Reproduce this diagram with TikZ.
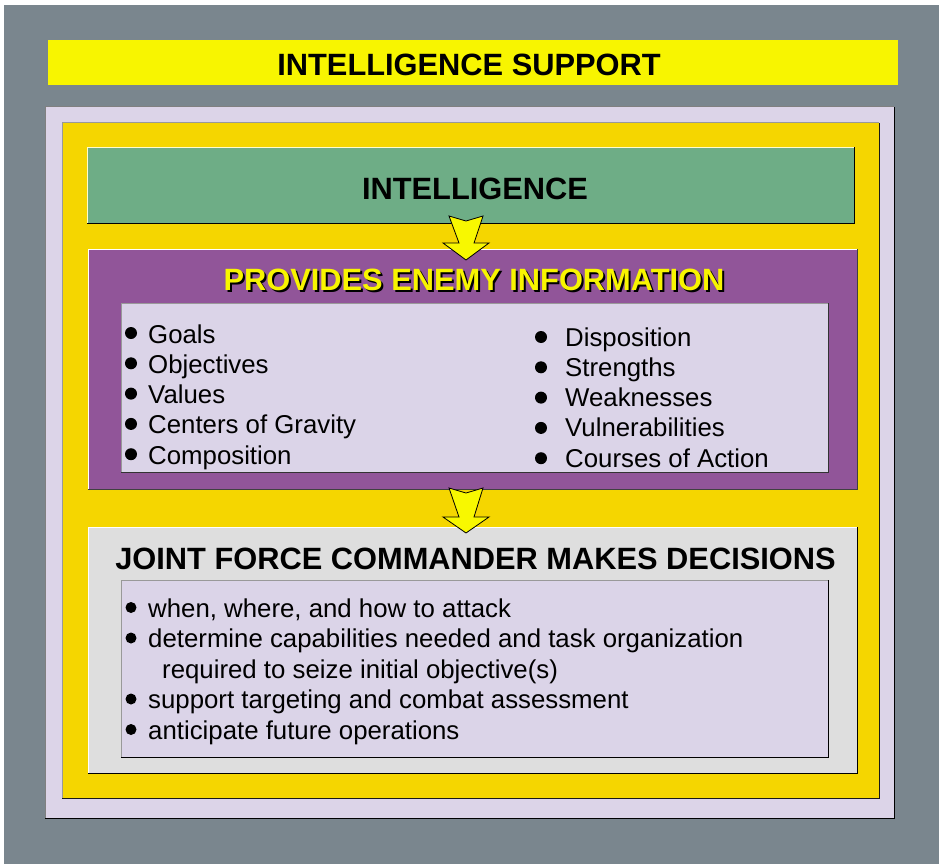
\documentclass[tikz,border=0pt]{standalone}
\usepackage{fontspec}
\setmainfont{Liberation Sans}
\usetikzlibrary{positioning}
\definecolor{slate}{HTML}{7A868E}
\definecolor{titleyellow}{HTML}{F8F500}
\definecolor{lavender}{HTML}{DCD4E8}
\definecolor{gold}{HTML}{F5D600}
\definecolor{intelgreen}{HTML}{6EAD86}
\definecolor{enemypurple}{HTML}{915599}
\definecolor{panelgray}{HTML}{DEDEDE}
\definecolor{listlav}{HTML}{DBD4E8}
\definecolor{arrowyellow}{HTML}{F8F800}
% light edge top/left, dark edge bottom/right
\newcommand\bevel[3]{\draw[#2, line width=1pt] (#1.south west) |- (#1.north east);
  \draw[#3, line width=1pt] (#1.south west) -| (#1.north east);}

\begin{document}
\begin{tikzpicture}[x=1pt, y=-1pt,
  panel/.style={rectangle, inner sep=0pt, outer sep=0pt, anchor=north west},
  head/.style={font=\fontsize{30.8}{36}\selectfont\bfseries, anchor=base, inner sep=0pt},
  item/.style={font=\fontsize{25.8}{30}\selectfont, anchor=base west, inner sep=0pt},
  dot/.style={fill=black},
  blockarrow/.style={fill=arrowyellow, draw=black, line width=0.8pt, line join=miter}]
\useasboundingbox (0,0) rectangle (939,864);
\fill[slate] (4,5) rectangle (939,864);

\node[panel, fill=titleyellow, minimum width=850pt, minimum height=45pt] (support) at (48,40) {};
\node[head] (supporttitle) at (469,76) {INTELLIGENCE SUPPORT};

\node[panel, fill=lavender, minimum width=849pt, minimum height=711pt] (outer) at (45,107) {};
\bevel{outer}{black!50}{black}
\node[panel, fill=gold, minimum width=817pt, minimum height=675pt] (frame) at (62,123) {};
\bevel{frame}{black!40}{black!90}

% intelligence
\node[panel, fill=intelgreen, minimum width=767pt, minimum height=76pt] (intel) at (87,147) {};
\bevel{intel}{yellow!20}{black}
\node[head] (inteltitle) at (475,199) {INTELLIGENCE};

% enemy information
\node[panel, fill=enemypurple, minimum width=769pt, minimum height=240pt] (enemy) at (88,249) {};
\bevel{enemy}{white}{black!75}
\node[head, text=black] (enemyshadow) at (476,292) {PROVIDES ENEMY INFORMATION};
\node[head, text=titleyellow] (enemytitle) at (474,290) {PROVIDES ENEMY INFORMATION};
\node[panel, fill=listlav, minimum width=707pt, minimum height=169pt] (enemylist) at (121,303) {};
\bevel{enemylist}{black!40}{black!80}
\foreach \t [count=\i] in {Goals,Objectives,Values,Centers of Gravity,Composition} {
  \fill[dot] (131,{333+30.3*(\i-1)}) circle (6pt);
  \node[item] (left\i) at (148,{343+30.3*(\i-1)}) {\t};
}
\foreach \t [count=\i] in {Disposition,Strengths,Weaknesses,Vulnerabilities,Courses of Action} {
  \fill[dot] (541,{337+30.3*(\i-1)}) circle (6pt);
  \node[item] (right\i) at (565,{346+30.3*(\i-1)}) {\t};
}

% decisions
\node[panel, fill=panelgray, minimum width=769pt, minimum height=246pt] (jfc) at (88,527) {};
\bevel{jfc}{white}{black}
\node[head] (jfctitle) at (475.5,569) {JOINT FORCE COMMANDER MAKES DECISIONS};
\node[panel, fill=listlav, minimum width=707pt, minimum height=177pt] (jfclist) at (121,580) {};
\bevel{jfclist}{black!40}{black}
\foreach \y/\t [count=\i] in {617/{when, where, and how to attack},
    647.5/{determine capabilities needed and task organization},
    708.5/{support targeting and combat assessment},
    739/{anticipate future operations}} {
  \fill[dot] (131,\y-9.5) circle (5.5pt);
  \node[item] (dec\i) at (148,\y) {\t};
}
\node[item] (dec2b) at (162,678) {required to seize initial objective(s)};

% block arrows
\foreach \top/\wing/\tip in {216/243/260, 488/517/533}
  \filldraw[blockarrow] (449,\top) -- (466,\top+5) -- (483,\top) -- (474,\wing)
    -- (489,\wing) -- (466,\tip) -- (443,\wing) -- (459,\wing) -- cycle;
\end{tikzpicture}
\end{document}
